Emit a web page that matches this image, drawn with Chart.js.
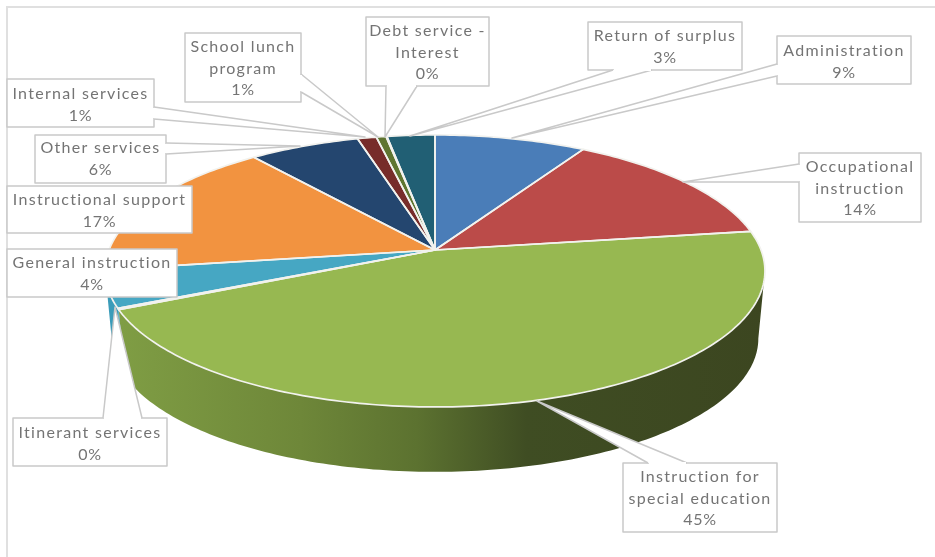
<!DOCTYPE html>
<html>
<head>
<meta charset="utf-8">
<style>html,body{margin:0;padding:0;background:#fff;overflow:hidden}canvas{display:block}</style>
<script src="https://cdn.jsdelivr.net/npm/chart.js@4"></script>
</head>
<body>
<canvas id="budget" width="935" height="557"></canvas>
<script>
// Budget categories, clockwise from twelve o'clock
const categories = ['Administration', 'Occupational instruction', 'Instruction for special education',
  'Itinerant services', 'General instruction', 'Instructional support', 'Other services',
  'Internal services', 'School lunch program', 'Debt service - Interest', 'Return of surplus'];
const shares = [8.6, 14.1, 45.4, 0.15, 4.45, 16.6, 6.3, 1.08, 0.55, 0.05, 2.72];
const topColors = ['#4a7db8', '#bb4b49', '#97b851', '#46a7c3', '#46a7c3', '#f29340',
  '#24466f', '#772c2a', '#5f7530', '#5f7530', '#215f74'];
const wallColors = [null, null, null, '#3b9cb9', '#3b9cb9', null, null, null, null, null, null];
const labelLines = [['Administration'], ['Occupational', 'instruction'], ['Instruction for', 'special education'],
  ['Itinerant services'], ['General instruction'], ['Instructional support'], ['Other services'],
  ['Internal services'], ['School lunch', 'program'], ['Debt service -', 'Interest'], ['Return of surplus']];

// Callout layout: box [left, top, right, bottom], first text line centre, optional wedge [a, b, tip]
const callouts = [
  { box: [777, 36, 911, 84],  y0: 51,  wedge: [[777, 64], [777, 76], [512, 138]] },
  { box: [799, 153, 921, 222], y0: 167, wedge: [[799, 164], [799, 182], [683, 182]] },
  { box: [623, 463, 777, 532], y0: 477, wedge: [[648, 463], [687, 463], [537, 401]] },
  { box: [13, 418, 167, 466], y0: 433, wedge: [[103, 418], [142, 418], [115, 307]] },
  { box: [7, 249, 177, 297], y0: 263 },
  { box: [7, 186, 192, 233], y0: 200 },
  { box: [35, 135, 166, 183], y0: 148, wedge: [[166, 143], [166, 154], [300, 146]] },
  { box: [7, 79, 154, 127], y0: 94, wedge: [[154, 107], [154, 119], [365, 137]] },
  { box: [185, 33, 301, 102], y0: 47, wedge: [[301, 74], [301, 92], [378, 137]] },
  { box: [366, 17, 489, 86], y0: 31, wedge: [[386, 86], [417, 86], [385, 137]] },
  { box: [588, 22, 742, 70], y0: 36, wedge: [[613, 70], [652, 70], [410, 136]] }
];

// Perspective view of the disc: apex, radii and foreshortening of the far edge
const view = { cx: 435, cy: 250, rx: 326, ry: 132.8, k: 0.154, depth: 68, shrink: 0.98 };

function project(angle, lower) {
  const x = Math.cos(angle), y = Math.sin(angle), w = 1 - view.k * y;
  const s = lower ? view.shrink : 1;
  return [view.cx + s * view.rx * x / w, view.cy + (lower ? view.depth : 0) + s * view.ry * y / w];
}

function rimPoints(start, end, lower) {
  const steps = Math.max(2, Math.ceil((end - start) / (Math.PI / 180)));
  const pts = [];
  for (let i = 0; i <= steps; i++) pts.push(project(start + (end - start) * i / steps, lower));
  return pts;
}

function trace(ctx, pts) {
  ctx.beginPath();
  pts.forEach((p, i) => i ? ctx.lineTo(p[0], p[1]) : ctx.moveTo(p[0], p[1]));
  ctx.closePath();
}

const pie3d = {
  id: 'pie3d',
  beforeDatasetsDraw(chart) {
    const ctx = chart.ctx;
    const arcs = chart.getDatasetMeta(0).data;
    ctx.save();

    // Frame of the chart area
    ctx.strokeStyle = '#e0e0e0';
    ctx.lineWidth = 2;
    ctx.beginPath();
    ctx.moveTo(7, 557);
    ctx.lineTo(7, 7);
    ctx.lineTo(935, 7);
    ctx.stroke();

    // Outer wall, limited to the part of the rim that faces the viewer
    const shade = ctx.createLinearGradient(120, 0, 765, 0);
    shade.addColorStop(0, '#7f9d44');
    shade.addColorStop(0.28, '#6e8739');
    shade.addColorStop(0.46, '#5c7230');
    shade.addColorStop(0.63, '#3f4d23');
    shade.addColorStop(1, '#3c4620');
    const frontStart = Math.asin(view.k), frontEnd = Math.PI - frontStart;
    arcs.forEach((arc, i) => {
      const start = Math.max(arc.startAngle, frontStart);
      const end = Math.min(arc.endAngle, frontEnd);
      if (end <= start) return;
      const top = rimPoints(start, end, false);
      const low = rimPoints(start, end, true).reverse();
      trace(ctx, top.concat(low));
      ctx.fillStyle = wallColors[i] || shade;
      ctx.fill();
    });

    // Top faces
    ctx.lineJoin = 'round';
    arcs.forEach((arc, i) => {
      trace(ctx, [[view.cx, view.cy]].concat(rimPoints(arc.startAngle, arc.endAngle, false)));
      ctx.fillStyle = topColors[i];
      ctx.fill();
    });
    arcs.forEach((arc) => {
      trace(ctx, [[view.cx, view.cy]].concat(rimPoints(arc.startAngle, arc.endAngle, false)));
      ctx.strokeStyle = '#f2f2ee';
      ctx.lineWidth = 1.7;
      ctx.stroke();
    });

    // Callouts
    callouts.forEach((c, i) => {
      const [l, t, r, b] = c.box;
      ctx.fillStyle = '#ffffff';
      ctx.strokeStyle = '#c9c9c9';
      ctx.lineWidth = 1.5;
      ctx.beginPath();
      ctx.rect(l, t, r - l, b - t);
      ctx.fill();
      ctx.stroke();
      if (c.wedge) {
        const [a, d, tip] = c.wedge;
        ctx.beginPath();
        ctx.moveTo(a[0], a[1]);
        ctx.lineTo(tip[0], tip[1]);
        ctx.lineTo(d[0], d[1]);
        ctx.closePath();
        ctx.fill();
        ctx.beginPath();
        ctx.moveTo(a[0], a[1]);
        ctx.lineTo(tip[0], tip[1]);
        ctx.lineTo(d[0], d[1]);
        ctx.stroke();
        // Open the box edge where the wedge joins it
        ctx.strokeStyle = '#ffffff';
        ctx.lineWidth = 2;
        ctx.beginPath();
        const inset = a[0] === d[0] ? [0, 1] : [1, 0];
        ctx.moveTo(a[0] + inset[0], a[1] + inset[1]);
        ctx.lineTo(d[0] - inset[0], d[1] - inset[1]);
        ctx.stroke();
      }
      ctx.font = '16px Lato';
      ctx.textAlign = 'center';
      ctx.textBaseline = 'middle';
      ctx.fillStyle = '#747474';
      ctx.letterSpacing = '1.3px';
      labelLines[i].forEach((line, n) => ctx.fillText(line, (l + r) / 2, c.y0 + n * 21.5));
      ctx.letterSpacing = '0.7px';
      ctx.fillText(Math.round(shares[i]) + '%', (l + r) / 2, c.y0 + labelLines[i].length * 21.5);
      ctx.letterSpacing = '0px';
    });

    ctx.restore();
    return false;
  }
};

new Chart(document.getElementById('budget'), {
  type: 'pie',
  data: { labels: categories, datasets: [{ data: shares, backgroundColor: topColors }] },
  options: {
    responsive: false,
    animation: false,
    devicePixelRatio: 1,
    plugins: { legend: { display: false }, tooltip: { enabled: false } }
  },
  plugins: [pie3d]
});
</script>
</body>
</html>
